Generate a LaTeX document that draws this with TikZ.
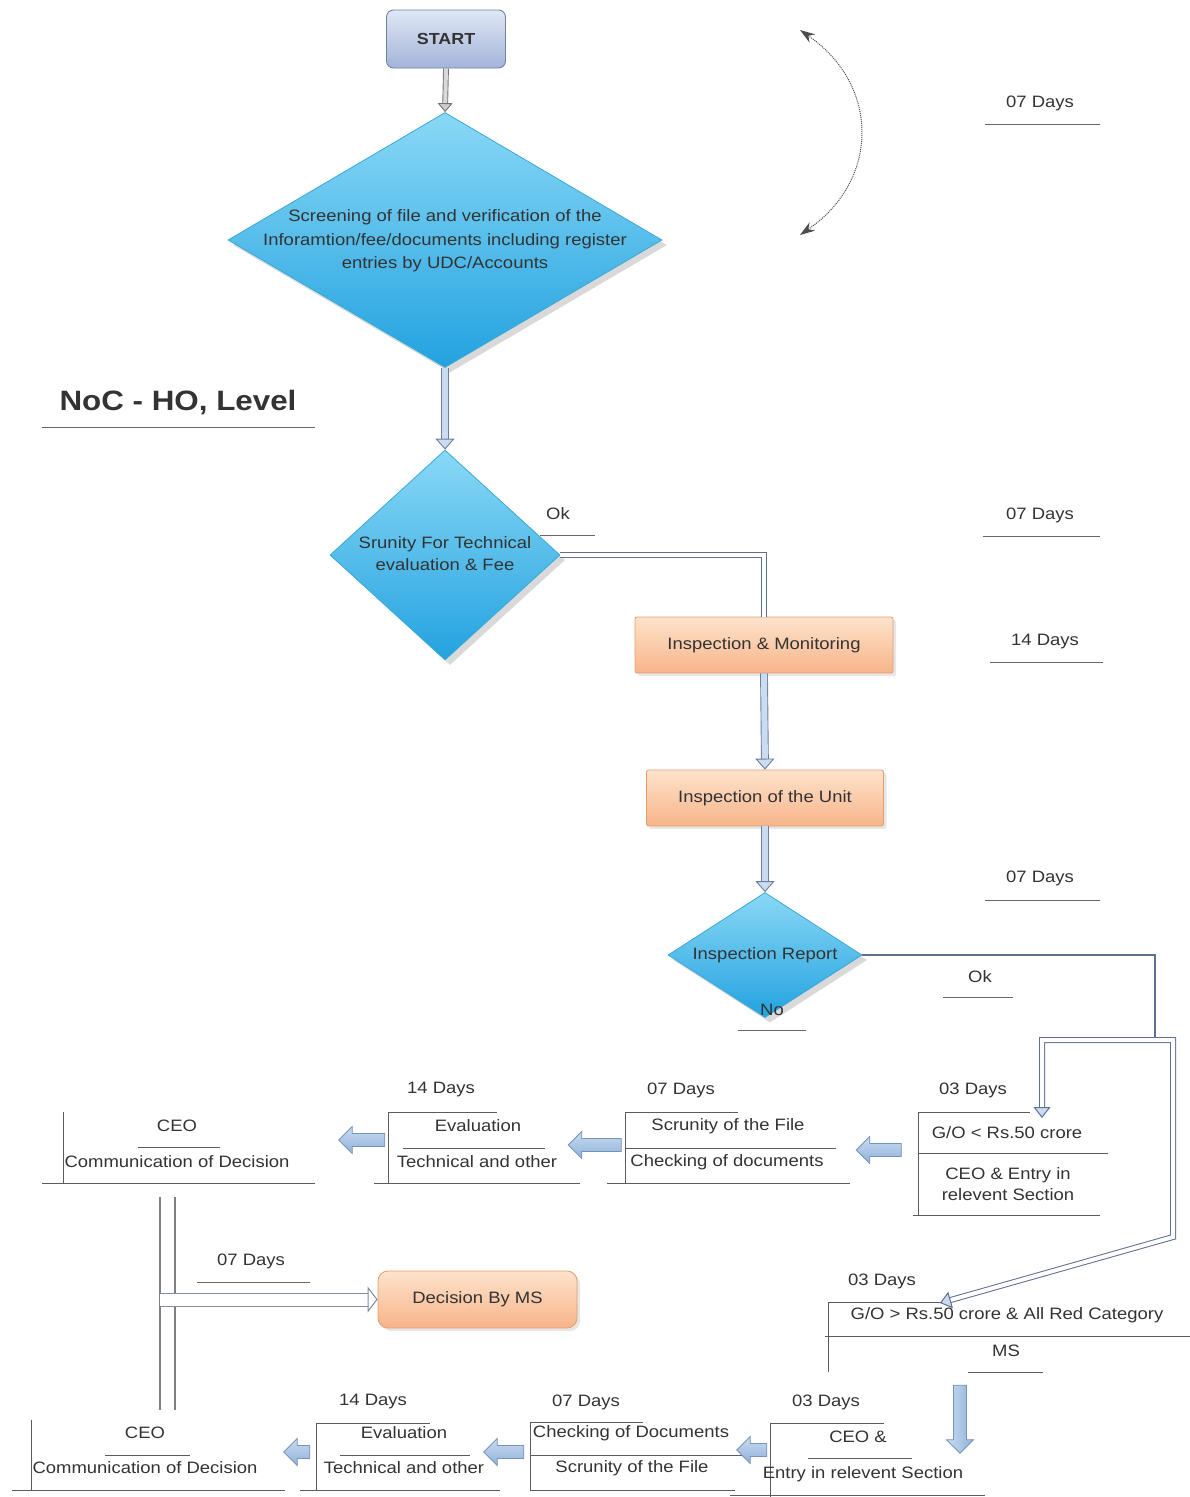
\documentclass[tikz,border=0pt]{standalone}
\usepackage{fontspec}
\setmainfont{Liberation Sans}[FakeStretch=1.12]
\usetikzlibrary{shapes.geometric,shapes.arrows,arrows.meta,shadows,calc}
\definecolor{txt}{HTML}{333333}
\definecolor{ulc}{HTML}{666666}
\definecolor{dia1}{HTML}{8AD8F5}
\definecolor{dia2}{HTML}{23A2E0}
\definecolor{diab}{HTML}{3AA9D6}
\definecolor{or1}{HTML}{FDE3CC}
\definecolor{or2}{HTML}{F7B489}
\definecolor{orb}{HTML}{E49E6E}
\definecolor{st1}{HTML}{E0E7F4}
\definecolor{st2}{HTML}{A3B4D9}
\definecolor{stb}{HTML}{6F82AC}
\definecolor{ab1}{HTML}{CADCF0}
\definecolor{ab2}{HTML}{8EB1DB}
\definecolor{abb}{HTML}{7893BA}
\definecolor{cn}{HTML}{5F6E92}
\begin{document}
\begin{tikzpicture}[x=1pt,y=-1pt,
  every node/.style={text=txt},
  font=\fontsize{16.5}{22}\selectfont,
  dia/.style={diamond, draw=diab, line width=0.8pt, top color=dia1, bottom color=dia2, inner sep=0pt,
    drop shadow={shadow xshift=5pt, shadow yshift=-5pt, opacity=0.3}},
  orbox/.style={rectangle, rounded corners=2pt, draw=orb, line width=0.8pt, top color=or1, bottom color=or2,
    drop shadow={shadow xshift=3pt, shadow yshift=-3pt, opacity=0.2}},
  ul/.style={draw=ulc, line width=1pt},
  tl/.style={draw=ulc!90!black, line width=1pt},
  fatg/.style={draw=black!55, line width=0.9pt, double=black!15, double distance=4pt,
    -{Triangle[length=9pt,width=15pt,fill=black!20]}},
  fatv/.style={draw=cn!90, line width=0.9pt, double=ab1, double distance=6pt,
    -{Triangle[length=11pt,width=19pt,fill=ab1]}},
  dbl/.style={draw=cn, line width=1pt, double=white, double distance=4pt},
  larrow/.style={single arrow, shape border rotate=180, draw=abb, line width=0.8pt,
    top color=ab1, bottom color=ab2, inner sep=6pt, minimum width=27pt,
    single arrow head extend=7pt},
  darrow/.style={single arrow, shape border rotate=270, draw=abb, line width=0.8pt,
    left color=ab1, right color=ab2, inner sep=6pt, minimum width=27pt,
    single arrow head extend=7pt},
]
\useasboundingbox (0,0) rectangle (1190,1497);

% ---------- top part ----------
\node[rectangle, rounded corners=7pt, draw=stb, line width=0.9pt, top color=st1, bottom color=st2,
  minimum width=119pt, minimum height=58pt, font=\fontsize{16}{20}\selectfont\bfseries] (start) at (446,39) {START};

\node[dia, minimum width=434pt, minimum height=255pt] (d1) at (445,240) {};
\node[align=center, font=\fontsize{16.5}{23.5}\selectfont] (d1t) at (445,241)
  {Screening of file and verification of the\\Inforamtion/fee/documents including register\\entries by UDC/Accounts};

\draw[fatg] (start.south) -- (d1.north);

\coordinate (ca) at (800,30);
\coordinate (cb) at (800,235);
\draw[densely dotted, line width=1pt, draw=black!70,
  {Stealth[length=15pt,width=10pt]}-{Stealth[length=15pt,width=10pt]}]
  (ca) .. controls (880,85) and (880,180) .. (cb);

\node (days1) at (1040,103) {07 Days};
\draw[ul] (985,124) -- (1100,124);

\node[font=\fontsize{28}{32}\selectfont\bfseries] (title) at (178,403) {NoC - HO, Level};
\draw[ul] (42,427) -- (315,427);

\node[dia, minimum width=230pt, minimum height=210pt] (d2) at (445,555) {};
\node[align=center] (d2t) at (445,554) {Srunity For Technical\\evaluation \& Fee};
\draw[fatv] (d1.south) -- (d2.north);

\node (ok1) at (558,514) {Ok};
\draw[ul] (540,535) -- (595,535);

\node[orbox, minimum width=258pt, minimum height=56pt] (im) at (764,645) {Inspection \& Monitoring};
\draw[dbl] (d2.east) -| (im.north);

\node (days2) at (1040,515) {07 Days};
\draw[ul] (983,536) -- (1100,536);
\node (days3) at (1045,642) {14 Days};
\draw[ul] (990,662) -- (1103,662);

\node[orbox, minimum width=237pt, minimum height=56pt] (iu) at (765,798) {Inspection of the Unit};
\draw[fatv] (im.south) -- (iu.north);

\node[dia, minimum width=194pt, minimum height=125pt] (d3) at (765,955) {};
\node (d3t) at (765,955) {Inspection Report};
\node (no) at (772,1010) {No};
\draw[ul] (738,1030) -- (806,1030);
\draw[fatv] (iu.south) -- (d3.north);

\node (days4) at (1040,878) {07 Days};
\draw[ul] (985,900) -- (1100,900);

\coordinate (okj) at (1155,1040);
\draw[draw=cn, line width=1.5pt] (d3.east) -| (okj);
\node (ok2) at (980,977) {Ok};
\draw[ul] (943,997) -- (1013,997);

% ---------- table 1 (G/O < 50) ----------
\node (g1d) at (973,1090) {03 Days};
\draw[tl] (918,1112) -- (1030,1112);
\draw[tl] (918,1112) -- (918,1215);
\draw[tl] (918,1153) -- (1108,1153);
\draw[tl] (913,1215) -- (1100,1215);
\node (g1a) at (1007,1133) {G/O < Rs.50 crore};
\node[align=center, font=\fontsize{16.5}{21}\selectfont] (g1b) at (1008,1184) {CEO \& Entry in\\relevent Section};

% ---------- table 5 (G/O > 50) ----------
\node (g2d) at (882,1281) {03 Days};
\draw[tl] (828,1302) -- (942,1302);
\draw[tl] (828,1302) -- (828,1372);
\draw[tl] (825,1336) -- (1190,1336);
\draw[tl] (968,1372) -- (1043,1372);
\node (g2a) at (1007,1315) {G/O > Rs.50 crore \& All Red Category};
\node (g2b) at (1006,1351) {MS};

% frame splitting to both tables
\coordinate (fa) at (1042,1040);
\coordinate (fb) at (1173,1040);
\coordinate (fc) at (1173,1237);
\coordinate (g1tip) at (1042,1118);
\coordinate (g2tip) at (940,1303);
\draw[dbl, {Triangle[length=11pt,width=17pt,fill=ab1]}-{Triangle[length=11pt,width=17pt,fill=ab1]}]
  (g1tip) -- (fa) -- (fb) -- (fc) -- (g2tip);

% ---------- table 2 ----------
\node (s1d) at (681,1090) {07 Days};
\draw[tl] (625,1112) -- (738,1112);
\draw[tl] (625,1112) -- (625,1183);
\draw[tl] (625,1148) -- (836,1148);
\draw[tl] (607,1183) -- (850,1183);
\node (s1a) at (728,1126) {Scrunity of the File};
\node (s1b) at (727,1162) {Checking of documents};

% ---------- table 3 ----------
\node (e1d) at (441,1090) {14 Days};
\draw[tl] (388,1112) -- (497,1112);
\draw[tl] (388,1112) -- (388,1183);
\draw[tl] (403,1148) -- (545,1148);
\draw[tl] (374,1183) -- (580,1183);
\node (e1a) at (478,1126) {Evaluation};
\node (e1b) at (477,1162) {Technical and other};

% ---------- table 4 ----------
\draw[tl] (63,1112) -- (63,1183);
\draw[tl] (138,1147) -- (220,1147);
\draw[tl] (42,1183) -- (315,1183);
\node (c1a) at (177,1126) {CEO};
\node (c1b) at (177,1162) {Communication of Decision};

% block arrows row 1
\node[larrow, minimum height=45pt] (a1) at (882,1150) {};
\node[larrow, minimum height=53pt] (a2) at (598,1145) {};
\node[larrow, minimum height=46pt] (a3) at (365,1140) {};

% ---------- decision by MS ----------
\draw[draw=black!50, line width=1.3pt] (160,1197) -- (160,1410);
\draw[draw=black!50, line width=1.3pt] (175,1197) -- (175,1410);
\node (days5) at (251,1261) {07 Days};
\draw[ul] (197,1282) -- (310,1282);
\node[orbox, rounded corners=10pt, minimum width=199pt, minimum height=57pt] (ms) at (477.5,1299.5) {Decision By MS};
\coordinate (msj) at (160,1299.5);
\draw[draw=cn!80, line width=1pt, double=white, double distance=12pt,
  -{Triangle[open, length=10pt, width=26pt]}] (msj) -- (ms.west);

% ---------- bottom row ----------
\node[darrow, minimum height=68pt] (a4) at (960,1416) {};

\node (t6d) at (826,1402) {03 Days};
\draw[tl] (770,1423) -- (884,1423);
\draw[tl] (770,1423) -- (770,1497);
\draw[tl] (808,1458) -- (912,1458);
\draw[tl] (730,1495) -- (985,1495);
\node (t6a) at (858,1437) {CEO \&};
\node (t6b) at (863,1474) {Entry in relevent Section};

\node (t7d) at (586,1402) {07 Days};
\draw[tl] (530,1422) -- (643,1422);
\draw[tl] (530,1422) -- (530,1490);
\draw[tl] (530,1455) -- (748,1455);
\draw[tl] (530,1490) -- (735,1490);
\node (t7a) at (631,1433) {Checking of Documents};
\node (t7b) at (632,1468) {Scrunity of the File};

\node (t8d) at (373,1402) {14 Days};
\draw[tl] (316,1423) -- (430,1423);
\draw[tl] (316,1423) -- (316,1490);
\draw[tl] (340,1455) -- (470,1455);
\draw[tl] (300,1490) -- (500,1490);
\node (t8a) at (404,1433) {Evaluation};
\node (t8b) at (404,1468) {Technical and other};

\draw[tl] (31,1420) -- (31,1490);
\draw[tl] (105,1455) -- (190,1455);
\draw[tl] (12,1490) -- (285,1490);
\node (t9a) at (145,1433) {CEO};
\node (t9b) at (145,1468) {Communication of Decision};

\node[larrow, minimum height=30pt] (a5) at (755,1450) {};
\node[larrow, minimum height=40pt] (a6) at (507,1452) {};
\node[larrow, minimum height=26pt] (a7) at (300,1452) {};
\end{tikzpicture}
\end{document}
